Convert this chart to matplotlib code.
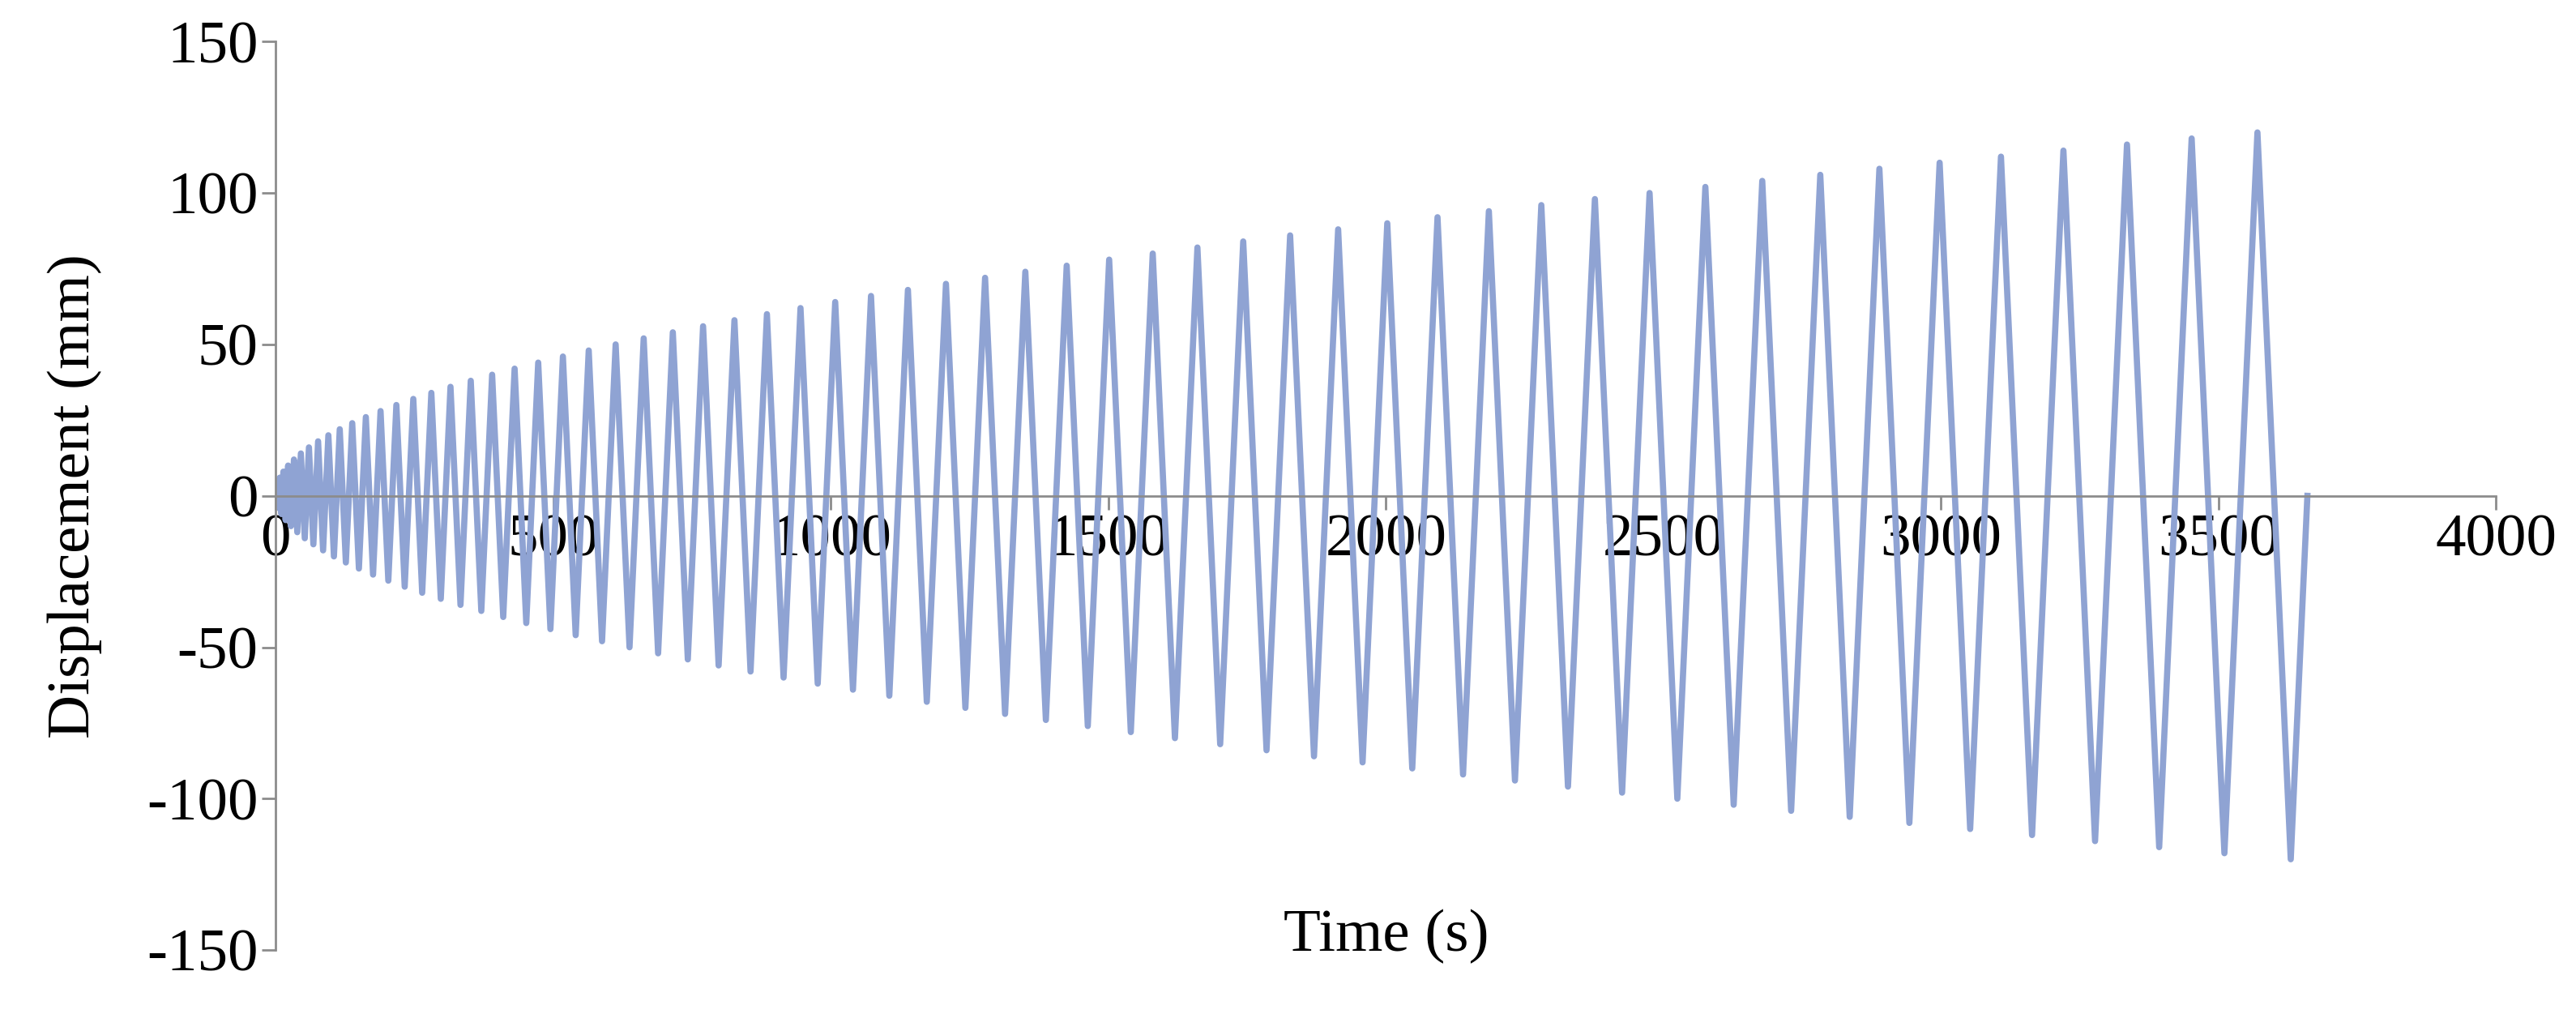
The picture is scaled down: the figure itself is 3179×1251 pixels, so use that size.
import matplotlib.pyplot as plt

# cycle amplitudes (mm), one full +/- cycle each, read from the peaks
amplitudes = [2, 4, 6, 8, 10, 12, 14, 16, 18, 20, 22, 24, 26, 28, 30, 32, 34, 36, 38, 40,
              42, 44, 46, 48, 50, 52, 54, 56, 58, 60, 62, 64, 66, 68, 70, 72, 74, 76, 78, 80,
              82, 84, 86, 88, 90, 92, 94, 96, 98, 100, 102, 104, 106, 108, 110, 112, 114, 116, 118, 120]
rate = 4.0  # mm/s loading rate

# build the turning points of the triangular history
t = [0.0]
d = [0.0]
for a in amplitudes:
    for target in (a, -a, 0.0):
        t.append(t[-1] + abs(target - d[-1]) / rate)
        d.append(target)

plt.rcParams['font.family'] = ['Liberation Serif', 'DejaVu Serif']
plt.rcParams['axes.unicode_minus'] = False

fig = plt.figure(figsize=(31.79, 12.51), dpi=100)
ax = fig.add_axes([0.107, 0.063, 0.862, 0.896])
ax.plot(t, d, color='#8FA3D3', linewidth=5.5)

ax.set_xlim(0, 4000)
ax.set_ylim(-150, 150)
ax.set_xticks(range(0, 4001, 500))
ax.set_yticks(range(-150, 151, 50))

ax.spines['top'].set_visible(False)
ax.spines['right'].set_visible(False)
ax.spines['bottom'].set_position(('data', 0))
for s in ('left', 'bottom'):
    ax.spines[s].set_color('#8C8C8C')
    ax.spines[s].set_linewidth(2)
ax.tick_params(axis='both', labelsize=54, color='#8C8C8C', width=2, length=12)
ax.tick_params(axis='x', pad=4)

ax.set_xlabel('Time (s)', fontsize=54)
ax.xaxis.set_label_coords(0.5, 0.045)
ax.set_ylabel('Displacement (mm)', fontsize=54, labelpad=40)

fig.savefig('out.png', dpi=100)
